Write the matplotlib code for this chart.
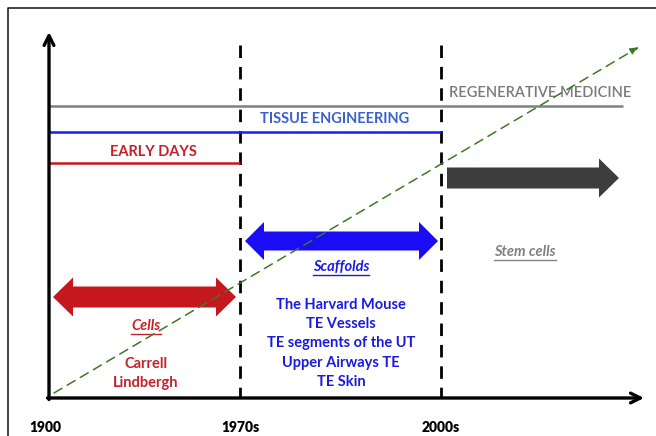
import matplotlib
matplotlib.use("Agg")
import matplotlib.pyplot as plt
from matplotlib.patches import FancyArrow, Polygon

plt.rcParams['font.family'] = ['Lato', 'DejaVu Sans']

# --- data ---
milestones = ['1900', '1970s', '2000s']
eras = ['REGENERATIVE MEDICINE', 'TISSUE ENGINEERING', 'EARLY DAYS']
era_end = [3, 2, 1]          # era spans from 1900 to this milestone index (3 = open end)
themes = ['Cells', 'Scaffolds', 'Stem cells']
cells_names = ['Carrell', 'Lindbergh']
scaffold_events = ['The Harvard Mouse', 'TE Vessels', 'TE segments of the UT',
                   'Upper Airways TE', 'TE Skin']

# --- layout (pixel-like canvas, y downwards) ---
W, H = 656, 436
mx = [49, 240, 441, 623]      # x of milestones (last one = open end)
x_axis_y, y_axis_top, x_axis_end = 398, 32, 644
era_y = [106, 132, 163]
era_text = [(449, 93, 'left'), (335, 119, 'center'), (153, 152, 'center')]
era_col = ['#808080', '#1a1aff', '#c8161d']
era_text_col = ['#7a7a7a', '#3b62c9', '#c8202a']

fig = plt.figure(figsize=(W / 100, H / 100), dpi=100)
ax = fig.add_axes([0, 0, 1, 1])
ax.set_xlim(0, W)
ax.set_ylim(H, 0)
ax.axis('off')

# frame
ax.plot([8, 8, W], [H, 8, 8], color='#222222', lw=1.2)

# axes arrows
ax.annotate('', xy=(mx[0], y_axis_top), xytext=(mx[0], x_axis_y + 1.5),
            arrowprops=dict(arrowstyle='->,head_length=0.7,head_width=0.35',
                            lw=2.4, color='black', shrinkA=0, shrinkB=0))
ax.annotate('', xy=(x_axis_end, x_axis_y), xytext=(mx[0] - 1.5, x_axis_y),
            arrowprops=dict(arrowstyle='->,head_length=0.7,head_width=0.35',
                            lw=2.4, color='black', shrinkA=0, shrinkB=0))

# milestone dashed lines + labels
for i, lab in enumerate(milestones):
    if i > 0:
        ax.plot([mx[i], mx[i]], [45, x_axis_y], color='black', lw=2.0,
                dashes=(4.5, 3.2))
    ax.text(mx[i] - (4 if i == 0 else 0), 427, lab, ha='center', va='center',
            fontsize=10, fontweight='heavy', color='black')

# era lines
for name, end, y, (tx, ty, ha), c, tc in zip(eras, era_end, era_y, era_text,
                                             era_col, era_text_col):
    ax.plot([mx[0], mx[end]], [y, y], color=c, lw=1.8, solid_capstyle='butt')
    ax.text(tx, ty, name, ha=ha, va='center', fontsize=10.5,
            fontweight='semibold' if ha == 'left' else 'bold', color=tc)

# double arrows for cells and scaffolds
def double_arrow(x0, x1, y, color, width, head_w, head_l):
    w, hw = width / 2, head_w / 2
    pts = [(x0, y), (x0 + head_l, y - hw), (x0 + head_l, y - w),
           (x1 - head_l, y - w), (x1 - head_l, y - hw), (x1, y),
           (x1 - head_l, y + hw), (x1 - head_l, y + w), (x0 + head_l, y + w),
           (x0 + head_l, y + hw)]
    ax.add_patch(Polygon(pts, closed=True, color=color, lw=0, zorder=2))

double_arrow(53, 236, 297, '#c4171e', 21, 39, 20)
double_arrow(245, 438, 241, '#1a0cf5', 19, 38, 19)

# stem cell arrow
ax.add_patch(FancyArrow(447, 178, 172, 0, width=21, head_width=39,
                        head_length=20, length_includes_head=True,
                        color='#3d3d3d', lw=0, zorder=2))

# theme labels (italic, underlined)
theme_pos = [(146, 326, '#c8202a'), (341, 267, '#1a1ae0'), (525, 252, '#808080')]
fig.canvas.draw()
for t, (x, y, c) in zip(themes, theme_pos):
    txt = ax.text(x, y, t, ha='center', va='center', fontsize=10.5,
                  fontweight='bold', fontstyle='italic', color=c)
    bb = txt.get_window_extent(renderer=fig.canvas.get_renderer())
    bb = bb.transformed(ax.transData.inverted())
    ax.plot([bb.x0, bb.x1], [y + 8, y + 8], color=c, lw=1.0)

for i, n in enumerate(cells_names):
    ax.text(146, 364 + 19 * i, n, ha='center', va='center', fontsize=10.5,
            fontweight='bold', color='#c8202a')
for i, n in enumerate(scaffold_events):
    ax.text(341, 305 + 19.2 * i, n, ha='center', va='center', fontsize=10.5,
            fontweight='bold', color='#1a1ae0')

# green dashed trend arrow
ax.annotate('', xy=(639, 47), xytext=(54, 393),
            arrowprops=dict(arrowstyle='-|>,head_length=0.5,head_width=0.2',
                            lw=1.1, color='#3c7a22', linestyle=(0, (6, 4)),
                            shrinkA=0, shrinkB=0), zorder=5)

fig.savefig('out.png', dpi=100)
